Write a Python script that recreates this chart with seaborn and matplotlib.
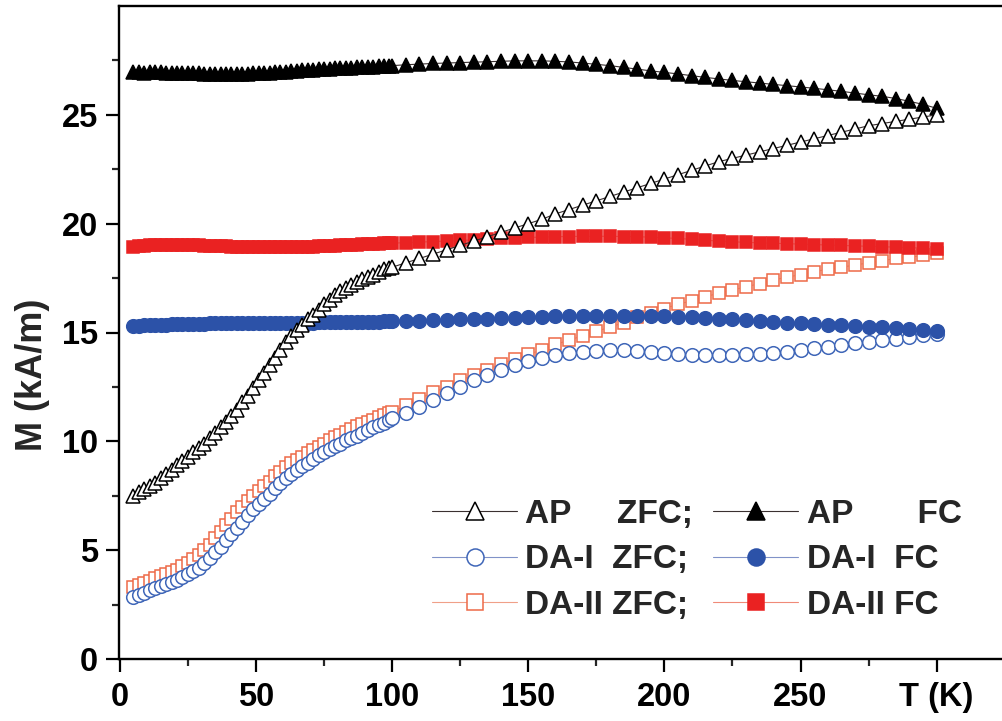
import matplotlib
matplotlib.use("Agg")
import matplotlib.pyplot as plt
import seaborn as sns
from matplotlib.ticker import FixedLocator

sns.set_theme(style="white")
plt.rcParams['font.family'] = ['Liberation Sans', 'DejaVu Sans']
plt.rcParams['font.weight'] = 'bold'

# Temperature grid (K): dense below 100 K, 5 K steps above
T = [5, 7, 9, 11, 13, 15, 17, 19, 21, 23, 25, 27, 29, 31, 33, 35, 37, 39, 41, 43, 45, 47, 49, 51,
     53, 55, 57, 59, 61, 63, 65, 67, 69, 71, 73, 75, 77, 79, 81, 83, 85, 87, 89, 91, 93, 95, 97, 99,
     100, 105, 110, 115, 120, 125, 130, 135, 140, 145, 150, 155, 160, 165, 170, 175,
     180, 185, 190, 195, 200, 205, 210, 215, 220, 225, 230, 235, 240, 245, 250, 255,
     260, 265, 270, 275, 280, 285, 290, 295, 300]

# Magnetisation (kA/m)
AP_ZFC = [7.5, 7.65, 7.8, 7.95, 8.1, 8.3, 8.5, 8.7, 8.9, 9.1, 9.3, 9.5, 9.7, 9.9, 10.15, 10.4,
          10.65, 10.9, 11.15, 11.45, 11.8, 12.1, 12.45, 12.8, 13.15, 13.5, 13.85, 14.2, 14.55, 14.85, 15.1, 15.35,
          15.6, 15.8, 16.05, 16.3, 16.5, 16.7, 16.9, 17.05, 17.2, 17.3, 17.45, 17.55, 17.65, 17.8, 17.9, 17.95,
          18.0, 18.2, 18.4, 18.6, 18.8, 19.0, 19.2, 19.4, 19.6, 19.8, 20.0, 20.2, 20.45, 20.65, 20.85, 21.05,
          21.25, 21.45, 21.65, 21.85, 22.05, 22.25, 22.45, 22.65, 22.85, 23.0, 23.15, 23.3, 23.45, 23.6, 23.75, 23.9,
          24.05, 24.2, 24.35, 24.5, 24.6, 24.7, 24.8, 24.9, 25.0]
AP_FC = [26.95, 26.95, 26.94, 26.95, 26.95, 26.95, 26.94, 26.93, 26.93, 26.92, 26.91, 26.9, 26.9, 26.89, 26.88, 26.88,
         26.88, 26.88, 26.88, 26.88, 26.88, 26.89, 26.9, 26.91, 26.92, 26.94, 26.96, 26.97, 26.99, 27.0, 27.02, 27.04,
         27.06, 27.07, 27.09, 27.1, 27.11, 27.13, 27.14, 27.16, 27.17, 27.18, 27.2, 27.21, 27.22, 27.23, 27.24, 27.25,
         27.26, 27.3, 27.33, 27.36, 27.38, 27.4, 27.42, 27.44, 27.46, 27.48, 27.48, 27.48, 27.46, 27.43, 27.38, 27.32,
         27.26, 27.18, 27.1, 27.02, 26.95, 26.88, 26.8, 26.72, 26.65, 26.58, 26.52, 26.46, 26.4, 26.34, 26.28, 26.22,
         26.15, 26.08, 26.0, 25.92, 25.85, 25.75, 25.62, 25.48, 25.3]
DA1_ZFC = [2.85, 2.95, 3.05, 3.15, 3.25, 3.35, 3.45, 3.55, 3.65, 3.75, 3.9, 4.05, 4.2, 4.4, 4.65, 4.9,
           5.15, 5.45, 5.75, 6.0, 6.3, 6.6, 6.9, 7.1, 7.35, 7.6, 7.85, 8.1, 8.3, 8.5, 8.7, 8.85,
           9.0, 9.2, 9.35, 9.5, 9.65, 9.8, 9.9, 10.05, 10.15, 10.25, 10.4, 10.5, 10.65, 10.75, 10.85, 11.0,
           11.05, 11.3, 11.6, 11.9, 12.2, 12.5, 12.8, 13.05, 13.3, 13.5, 13.7, 13.85, 13.95, 14.05, 14.1, 14.15,
           14.2, 14.2, 14.15, 14.1, 14.05, 14.0, 13.97, 13.95, 13.95, 13.97, 14.0, 14.02, 14.05, 14.12, 14.2, 14.27,
           14.35, 14.42, 14.5, 14.57, 14.65, 14.72, 14.8, 14.87, 14.95]
DA1_FC = [15.3, 15.31, 15.33, 15.35, 15.35, 15.35, 15.36, 15.37, 15.38, 15.38, 15.39, 15.4, 15.4, 15.41, 15.42, 15.42,
          15.42, 15.42, 15.42, 15.43, 15.43, 15.43, 15.44, 15.45, 15.45, 15.45, 15.45, 15.45, 15.45, 15.45, 15.45, 15.45,
          15.45, 15.45, 15.46, 15.47, 15.47, 15.48, 15.48, 15.48, 15.49, 15.5, 15.5, 15.5, 15.5, 15.5, 15.51, 15.52,
          15.52, 15.54, 15.55, 15.57, 15.58, 15.6, 15.62, 15.64, 15.66, 15.68, 15.7, 15.72, 15.74, 15.75, 15.76, 15.77,
          15.78, 15.78, 15.77, 15.76, 15.74, 15.72, 15.7, 15.67, 15.63, 15.6, 15.56, 15.52, 15.48, 15.45, 15.42, 15.39,
          15.36, 15.33, 15.3, 15.27, 15.24, 15.2, 15.16, 15.12, 15.08]
DA2_ZFC = [3.3, 3.4, 3.5, 3.6, 3.7, 3.8, 3.9, 4.0, 4.1, 4.25, 4.4, 4.6, 4.8, 5.0, 5.25, 5.55,
           5.85, 6.15, 6.45, 6.75, 7.0, 7.25, 7.5, 7.7, 7.95, 8.15, 8.4, 8.6, 8.8, 9.0, 9.15, 9.3,
           9.45, 9.6, 9.75, 9.9, 10.05, 10.2, 10.3, 10.45, 10.55, 10.7, 10.8, 10.9, 11.0, 11.1, 11.2, 11.3,
           11.35, 11.65, 11.95, 12.25, 12.5, 12.8, 13.05, 13.3, 13.55, 13.8, 14.0, 14.2, 14.45, 14.65, 14.85, 15.05,
           15.25, 15.45, 15.7, 15.9, 16.1, 16.3, 16.45, 16.65, 16.8, 16.95, 17.1, 17.25, 17.4, 17.55, 17.65, 17.8,
           17.9, 18.0, 18.1, 18.2, 18.3, 18.4, 18.45, 18.55, 18.65]
DA2_FC = [18.95, 18.96, 18.98, 19.0, 19.0, 19.0, 19.0, 19.01, 19.02, 19.02, 19.02, 19.01, 19.0, 18.99, 18.98, 18.97,
          18.96, 18.96, 18.95, 18.95, 18.95, 18.95, 18.95, 18.95, 18.94, 18.94, 18.94, 18.93, 18.93, 18.93, 18.93, 18.94,
          18.94, 18.95, 18.96, 18.97, 18.98, 18.99, 19.0, 19.02, 19.03, 19.04, 19.05, 19.06, 19.07, 19.08, 19.09, 19.1,
          19.1, 19.13, 19.15, 19.18, 19.2, 19.23, 19.26, 19.3, 19.33, 19.35, 19.37, 19.38, 19.4, 19.41, 19.42, 19.42,
          19.42, 19.41, 19.4, 19.38, 19.35, 19.32, 19.28, 19.24, 19.2, 19.17, 19.14, 19.12, 19.1, 19.08, 19.06, 19.04,
          19.02, 19.0, 18.98, 18.96, 18.94, 18.92, 18.9, 18.87, 18.85]

LABELS = ["AP     ZFC;", "DA-I  ZFC;", "DA-II ZFC;", "AP       FC", "DA-I  FC", "DA-II FC"]
X_TICKS = [0, 50, 100, 150, 200, 250, 300]
X_TICKLABELS = ["0", "50", "100", "150", "200", "250", "T (K)"]
Y_TICKS = [0, 5, 10, 15, 20, 25]
X_MINOR = [25, 75, 125, 175, 225, 275]
Y_MINOR = [2.5, 7.5, 12.5, 17.5, 22.5, 27.5]

fig = plt.figure(figsize=(10.02, 7.21), dpi=100)
ax = fig.add_axes([118.5 / 1002, 62 / 721, 1 - 118.5 / 1002, 653 / 721])

series = [
    # data, label, marker, ms, face, edge, line color, zorder
    (DA2_ZFC, LABELS[2], 's', 9.0, 'white', '#ee6a48', '#f0a088', 3),
    (DA1_ZFC, LABELS[1], 'o', 9.8, 'white', '#3f66b8', '#8092c8', 4),
    (DA1_FC, LABELS[4], 'o', 9.8, '#2c52a8', '#2c52a8', '#8092c8', 5),
    (DA2_FC, LABELS[5], 's', 9.0, '#ea2222', '#ea2222', '#f08a78', 6),
    (AP_FC, LABELS[3], '^', 10.5, 'black', 'black', '#3a3030', 7),
    (AP_ZFC, LABELS[0], '^', 10.5, 'white', 'black', '#3a3030', 8),
]
handles = {}
for data, lab, mk, ms, fc, ec, lc, z in series:
    sns.lineplot(x=T, y=data, ax=ax, marker=mk, markersize=ms, markerfacecolor=fc,
                 markeredgecolor=ec, markeredgewidth=1.1, color=lc, linewidth=0.8,
                 zorder=z, label=lab, legend=False, sort=False)
    handles[lab] = ax.lines[-1]

ax.set_xlim(-0.5, 324)
ax.set_ylim(0, 30)
ax.set_xticks(X_TICKS)
ax.set_xticklabels(X_TICKLABELS)
ax.set_yticks(Y_TICKS)
ax.xaxis.set_minor_locator(FixedLocator(X_MINOR))
ax.yaxis.set_minor_locator(FixedLocator(Y_MINOR))
ax.tick_params(axis='both', which='major', direction='out', length=9.5, width=1.6,
               labelsize=23.5, pad=5, colors='black', bottom=True, left=True)
ax.tick_params(axis='x', which='major', pad=7)
ax.tick_params(axis='both', which='minor', direction='out', length=5, width=1.6,
               bottom=True, left=True)
for lbl in ax.get_xticklabels() + ax.get_yticklabels():
    lbl.set_fontweight('bold')

for s in ['left', 'bottom', 'top']:
    ax.spines[s].set_linewidth(1.7)
    ax.spines[s].set_color('black')
ax.spines['right'].set_visible(False)

ax.set_xlabel("")
ax.set_ylabel("M (kA/m)", fontsize=26, fontweight='bold')
ax.yaxis.set_label_coords(-0.077, 0.435)

order = LABELS
leg = fig.legend([handles[l] for l in order], order, ncol=2, loc='upper left',
                 bbox_to_anchor=(432 / 1002, 1 - 499 / 721), frameon=False,
                 borderpad=0, borderaxespad=0, handlelength=2.55, handletextpad=0.25,
                 columnspacing=0.6, labelspacing=0.43, markerscale=1.25,
                 prop={'family': 'Liberation Sans', 'weight': 'bold', 'size': 24})

fig.savefig("out.png", dpi=100)
